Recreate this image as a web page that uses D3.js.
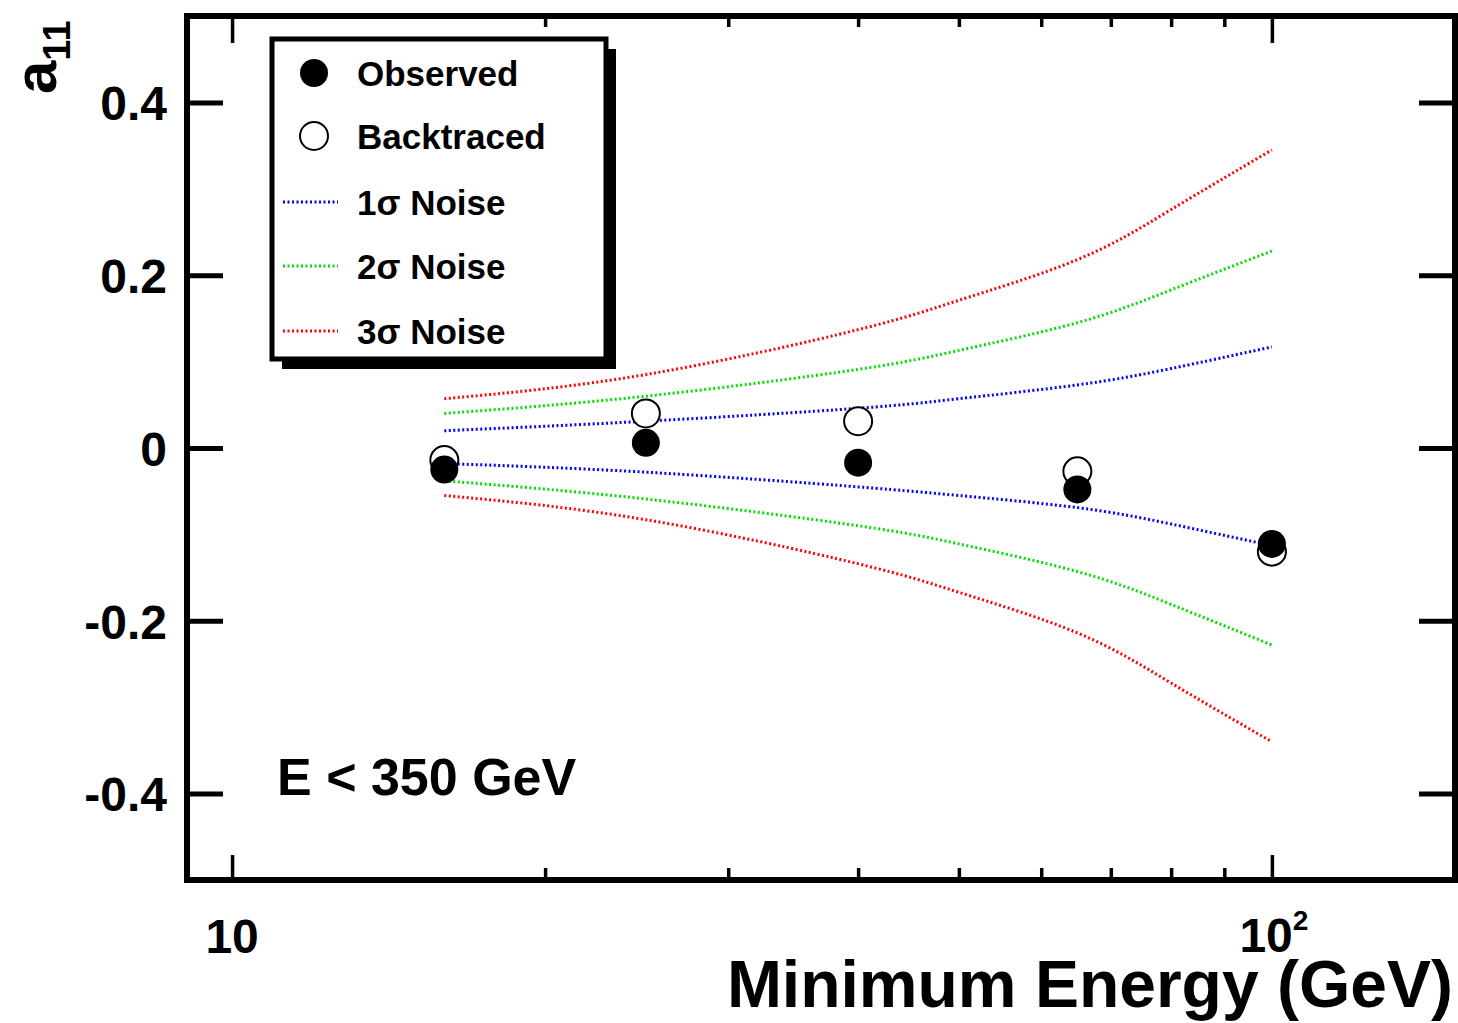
<!DOCTYPE html>
<html>
<head>
<meta charset="utf-8">
<script src="https://cdn.jsdelivr.net/npm/d3@7"></script>
<style>
  body { margin: 0; background: #fff; }
  text { font-family: "Liberation Sans", Arial, sans-serif; font-weight: bold; fill: #000; }
</style>
</head>
<body>
<div class="chart"></div>
<script>
/* data */
const energy = [16, 25, 40, 65, 100];
const observed = [-0.025, 0.006, -0.017, -0.048, -0.111];
const backtraced = [-0.014, 0.040, 0.031, -0.027, -0.120];

const noiseE = [16, 25, 40, 50, 65, 80, 100];
const sigma1Up = [0.020, 0.031, 0.046, 0.057, 0.073, 0.092, 0.117];
const sigma1Lo = [-0.018, -0.028, -0.045, -0.055, -0.069, -0.088, -0.113];
const sigma2Up = [0.040, 0.060, 0.091, 0.113, 0.145, 0.183, 0.228];
const sigma2Lo = [-0.038, -0.059, -0.090, -0.111, -0.143, -0.181, -0.228];
const sigma3Up = [0.057, 0.085, 0.137, 0.171, 0.218, 0.276, 0.345];
const sigma3Lo = [-0.055, -0.083, -0.134, -0.167, -0.214, -0.272, -0.340];

const yTicks = [-0.4, -0.2, 0, 0.2, 0.4];
const xMajor = [10, 100];
const xMinor = [20, 30, 40, 50, 60, 70, 80, 90];

/* chart area */
let margin = {top: 16, left: 187};
const width = 1268, height = 864;

const svg = d3.select(".chart").append("svg")
  .attr("width", 1458)
  .attr("height", 1023);

const g = svg.append("g")
  .attr("transform", "translate(" + margin.left + "," + margin.top + ")");

const xScale = d3.scaleLog().domain([9.05, 150]).range([0, width]);
const yScale = d3.scaleLinear().domain([-0.5, 0.5]).range([height, 0]);

/* axes, ticks drawn inward on all four sides */
const yAxisL = d3.axisLeft(yScale).tickValues(yTicks).tickSize(-36).tickPadding(20)
  .tickFormat(d => d === 0 ? "0" : d.toFixed(1));
const yAxisR = d3.axisRight(yScale).tickValues(yTicks).tickSize(-36).tickFormat("");
const xAxisB = d3.axisBottom(xScale).tickValues(xMajor).tickSize(-25).tickFormat("");
const xAxisT = d3.axisTop(xScale).tickValues(xMajor).tickSize(-27).tickFormat("");
const xMinB = d3.axisBottom(xScale).tickValues(xMinor).tickSize(-12).tickFormat("");
const xMinT = d3.axisTop(xScale).tickValues(xMinor).tickSize(-11).tickFormat("");

g.append("g").attr("class", "yl").call(yAxisL);
g.append("g").attr("class", "yr").attr("transform", `translate(${width},0)`).call(yAxisR);
g.append("g").attr("class", "xb").attr("transform", `translate(0,${height})`).call(xAxisB);
g.append("g").attr("class", "xt").call(xAxisT);
g.append("g").attr("class", "mn").attr("transform", `translate(0,${height})`).call(xMinB);
g.append("g").attr("class", "mn").call(xMinT);

g.selectAll(".domain").remove();
g.selectAll(".tick line").attr("stroke", "#000");
g.selectAll(".yl line, .yr line").attr("stroke-width", 5);
g.selectAll(".xb line, .xt line, .mn line").attr("stroke-width", 3.5);

g.selectAll(".yl text")
  .style("font-size", "48px")
  .style("font-family", "'Liberation Sans', Arial, sans-serif")
  .style("font-weight", "bold")
  .attr("dy", "0.36em");

/* x tick labels: 10 and 10^2 */
const xl = g.append("g").attr("transform", `translate(0,${height})`);
xl.append("text").attr("x", xScale(10)).attr("y", 73)
  .attr("text-anchor", "middle").style("font-size", "48px").text("10");
const t100 = xl.append("text").attr("x", xScale(100) + 2).attr("y", 72)
  .attr("text-anchor", "middle").style("font-size", "48px");
t100.append("tspan").text("10");
t100.append("tspan").attr("dy", -22).style("font-size", "28px").text("2");

/* frame */
g.append("rect").attr("width", width).attr("height", height)
  .attr("fill", "none").attr("stroke", "#000").attr("stroke-width", 6);

/* noise bands */
const line = d3.line()
  .x((d, i) => xScale(noiseE[i]))
  .y(d => yScale(d))
  .curve(d3.curveNatural);

const bands = [
  {up: sigma1Up, lo: sigma1Lo, color: "#0000ff"},
  {up: sigma2Up, lo: sigma2Lo, color: "#00e000"},
  {up: sigma3Up, lo: sigma3Lo, color: "#ff0000"}
];
bands.forEach(b => {
  [b.up, b.lo].forEach(s => {
    g.append("path").attr("d", line(s))
      .attr("fill", "none").attr("stroke", b.color)
      .attr("stroke-width", 3).attr("stroke-dasharray", "2,2.5");
  });
});

/* markers */
g.selectAll(".bt").data(energy).enter().append("circle")
  .attr("cx", d => xScale(d))
  .attr("cy", (d, i) => yScale(backtraced[i]))
  .attr("r", 14).attr("fill", "#fff").attr("stroke", "#000").attr("stroke-width", 2);
g.selectAll(".ob").data(energy).enter().append("circle")
  .attr("cx", d => xScale(d))
  .attr("cy", (d, i) => yScale(observed[i]))
  .attr("r", 14).attr("fill", "#000");

/* annotation */
svg.append("text").attr("x", 277).attr("y", 795).style("font-size", "52px").text("E < 350 GeV");

/* axis titles */
svg.append("text").attr("x", 1453).attr("y", 1007).attr("text-anchor", "end")
  .style("font-size", "66px").text("Minimum Energy (GeV)");
const yt = svg.append("text").attr("transform", "translate(56,94) rotate(-90)")
  .style("font-size", "60px");
yt.append("tspan").text("a");
yt.append("tspan").attr("dy", 14).style("font-size", "38px").text("11");

/* legend */
const leg = svg.append("g");
leg.append("rect").attr("x", 282).attr("y", 49).attr("width", 334).attr("height", 320).attr("fill", "#000");
leg.append("rect").attr("x", 272).attr("y", 39).attr("width", 334).attr("height", 320)
  .attr("fill", "#fff").attr("stroke", "#000").attr("stroke-width", 5);

const legItems = ["Observed", "Backtraced", "1σ Noise", "2σ Noise", "3σ Noise"];
const legY = [73, 136, 202, 266, 331];
legItems.forEach((name, i) => {
  if (i === 0) {
    leg.append("circle").attr("cx", 314).attr("cy", legY[i]).attr("r", 14).attr("fill", "#000");
  } else if (i === 1) {
    leg.append("circle").attr("cx", 314).attr("cy", legY[i]).attr("r", 14)
      .attr("fill", "#fff").attr("stroke", "#000").attr("stroke-width", 2);
  } else {
    leg.append("line").attr("x1", 283).attr("x2", 338).attr("y1", legY[i]).attr("y2", legY[i])
      .attr("stroke", bands[i - 2].color).attr("stroke-width", 3).attr("stroke-dasharray", "2,2.5");
  }
  leg.append("text").attr("x", 357).attr("y", legY[i]).attr("dy", "0.36em")
    .style("font-size", "35px").text(name);
});
</script>
</body>
</html>
